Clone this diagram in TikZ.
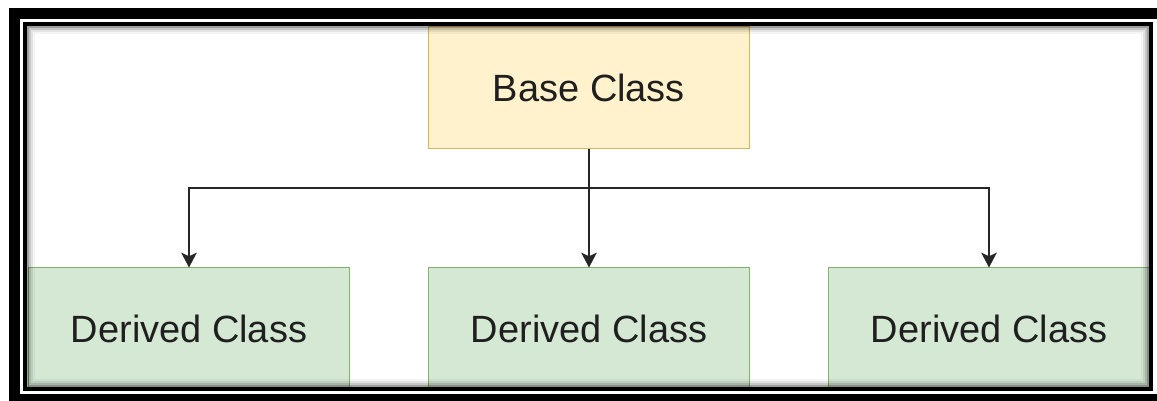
\documentclass[tikz,border=0pt]{standalone}
\usepackage{fontspec}
\setmainfont{Liberation Sans}
\usepackage{tikz}
\usetikzlibrary{positioning,arrows.meta}
\definecolor{basefill}{HTML}{FFF2CC}
\definecolor{baseline}{HTML}{D6B656}
\definecolor{derivfill}{HTML}{D5E8D4}
\definecolor{derivline}{HTML}{82B366}

\begin{document}
\begin{tikzpicture}[
  x=0.025cm, y=-0.025cm,
  clase/.style={rectangle, minimum width=8.025cm, minimum height=3.025cm,
    inner sep=0pt, line width=0.7pt, text=black!88,
    font=\fontsize{27}{32}\selectfont},
  base/.style={clase, draw=baseline, fill=basefill},
  derivada/.style={clase, draw=derivline, fill=derivfill},
  herencia/.style={-{Stealth[length=10.5pt, width=11pt, inset=2.5pt]},
    draw=black!85, line width=1.1pt}
]
\useasboundingbox (0,0) rectangle (1157,401);
\clip (0,0) rectangle (1157,401);
% Clases
\node[base] (base) at (589,87.5) {Base Class};
\node[derivada] (der1) at (189,328.5) {Derived Class};
\node[derivada] (der2) at (589,328.5) {Derived Class};
\node[derivada] (der3) at (989,328.5) {Derived Class};
% Herencia
\coordinate (rama) at (589,188);
\draw[herencia] (base.south) -- (der2.north);
\draw[herencia] (rama) -| (der1.north);
\draw[herencia] (rama) -| (der3.north);
% Sombra interior del marco
\foreach \d/\op in {1/0.38,3/0.22,5/0.11,7/0.04}
  \draw[black, opacity=\op, line width=0.05cm]
    (27+\d,26+\d) rectangle (1149-\d,387-\d);
% Marco doble
\draw[line width=0.1cm] (25,24) rectangle (1151,389);
\draw[line width=0.275cm] (14.5,13.5) rectangle (1166,399.5);
\end{tikzpicture}
\end{document}
